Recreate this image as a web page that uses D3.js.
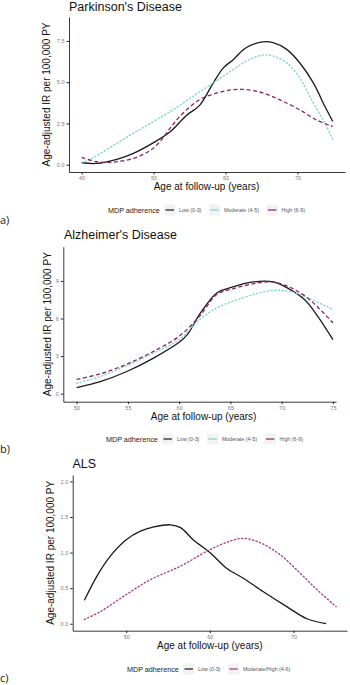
<!DOCTYPE html>
<html lang="en">
<head>
<meta charset="utf-8">
<title>MDP adherence and incidence</title>
<script src="https://cdn.jsdelivr.net/npm/d3@7"></script>
<style>
  body { margin: 0; background: #fff; }
  svg { display: block; font-family: "Liberation Sans", Arial, sans-serif; }
  .tick text { fill: #7a7a7a; font-size: 5.5px; }
  .domain, .tick line { stroke: #222; }
</style>
</head>
<body>
<script>
// Parkinson's disease: [age, IR]
var pdLow = [[40,0.12],[42.1,0.08],[44.9,0.33],[47.2,0.69],[50,1.34],[52.3,2.0],[54.6,3.0],[56.4,3.6],[58.3,4.96],[59.7,5.87],[61.1,6.38],[62.9,7.1],[65.2,7.44],[66.6,7.4],[68.5,6.99],[70.3,6.18],[72.2,4.96],[73.8,3.54],[74.9,2.62]];
var pdModerate = [[40,0.08],[41.2,0.33],[42.5,0.65],[44.9,1.3],[47.2,1.91],[50,2.62],[52.7,3.33],[55.5,4.15],[58.3,4.96],[61.1,5.77],[62.9,6.28],[65.2,6.65],[66.6,6.59],[68.5,6.18],[70.3,5.26],[72.2,3.74],[73.8,2.52],[74.9,1.54]];
var pdHigh = [[40,0.45],[42.1,0.18],[44.4,0.16],[47.2,0.39],[49.5,0.85],[50.9,1.4],[52.3,2.22],[54.1,3.13],[56.4,3.94],[58.8,4.35],[61.1,4.55],[62.9,4.55],[65.2,4.35],[67.5,3.94],[70.3,3.33],[72.6,2.72],[74.9,2.32]];

// Alzheimer's disease
var adLow = [[50,0.48],[52.3,0.96],[54.9,1.77],[57.5,2.84],[60,4.1],[60.8,4.71],[62.1,6.46],[63.7,8.06],[65,8.46],[67.2,8.92],[69.2,8.92],[70.5,8.46],[72.2,7.53],[73.5,6.19],[75,4.31]];
var adModerate = [[50,0.83],[52.3,1.37],[54.9,2.25],[57.5,3.24],[60,4.31],[62,5.92],[63.7,6.86],[65.3,7.39],[67.3,7.93],[69.2,8.25],[70.9,8.14],[72.5,7.66],[75,6.72]];
var adHigh = [[50,1.15],[52.3,1.58],[54.9,2.36],[57.5,3.38],[60,4.58],[62,6.19],[63.7,7.93],[65.3,8.38],[67.3,8.79],[68.9,8.92],[70.5,8.6],[72.5,7.66],[75,5.65]];

// ALS
var alsLow = [[45,0.33],[46.5,0.67],[48.1,0.95],[50,1.18],[51.7,1.3],[53.3,1.36],[55.3,1.39],[56.5,1.35],[58,1.18],[60,1.0],[62,0.78],[64,0.64],[66.4,0.45],[69.2,0.24],[71.6,0.07],[73.9,0.0]];
var alsModHigh = [[45,0.06],[46.9,0.17],[50,0.41],[52.9,0.62],[56.5,0.81],[60,1.04],[62.4,1.16],[64,1.2],[66,1.14],[68.4,0.97],[70.8,0.71],[72.8,0.48],[75.1,0.24]];

// tick labels
var pdXTicks = [40, 50, 60, 70];
var pdYTicks = [0, 2.5, 5, 7.5];
var adXTicks = [50, 55, 60, 65, 70, 75];
var adYTicks = [0, 3, 6, 9];
var alsXTicks = [50, 60, 70];
var alsYTicks = [0, 0.5, 1, 1.5, 2];

var pdLabels = ["Low (0-3)", "Moderate (4-5)", "High (6-9)"];
var alsLabels = ["Low (0-3)", "Moderate/High (4-6)"];

var black = "#1a1a1a", teal = "#7fd4cc", plum = "#8e2067", magenta = "#a8368a";
var solid = null, dotted = "1.3,2.4", dashed = "4,2.6";

var svg = d3.select("body").append("svg").attr("width", 350).attr("height", 685);

function drawPanel(p) {
  var x = d3.scaleLinear().domain(p.xDomain).range([p.left, p.right]);
  var y = d3.scaleLinear().domain(p.yDomain).range([p.bottom, p.top]);
  var g = svg.append("g");

  g.append("text").attr("x", p.titleX).attr("y", p.titleY)
    .attr("font-size", 12.5).attr("fill", "#111").text(p.title);

  var fmt = p.yFormat ? d3.format(p.yFormat) : d3.format("d");
  g.append("g").attr("transform", "translate(0," + p.bottom + ")")
    .call(d3.axisBottom(x).tickValues(p.xTicks).tickSize(2.5).tickPadding(2).tickSizeOuter(0))
    .call(function(s) { s.select(".domain").attr("stroke-width", 0.9); });
  g.append("g").attr("transform", "translate(" + p.left + ",0)")
    .call(d3.axisLeft(y).tickValues(p.yTicks).tickFormat(fmt).tickSize(2.5).tickPadding(2).tickSizeOuter(0))
    .call(function(s) { s.select(".domain").attr("stroke-width", 0.9); });

  var line = d3.line().x(function(d) { return x(d[0]); }).y(function(d) { return y(d[1]); })
    .curve(d3.curveCatmullRom.alpha(0.5));

  p.series.forEach(function(s) {
    g.append("path").datum(s.data).attr("d", line)
      .attr("fill", "none").attr("stroke", s.color).attr("stroke-width", 1.3)
      .attr("stroke-dasharray", s.dash).attr("stroke-linecap", s.dash === dotted ? "round" : "butt");
  });

  g.append("text").attr("transform", "translate(" + p.yTitleX + "," + ((p.top + p.bottom) / 2) + ") rotate(-90)")
    .attr("text-anchor", "middle").attr("font-size", 10).attr("fill", "#111")
    .text("Age-adjusted IR per 100,000 PY");
  g.append("text").attr("x", (p.left + p.right) / 2 + p.xTitleShift).attr("y", p.bottom + 18)
    .attr("text-anchor", "middle").attr("font-size", 10).attr("fill", "#111")
    .text("Age at follow-up (years)");

  // legend
  var lg = g.append("g").attr("transform", "translate(" + p.legendX + "," + p.legendY + ")");
  lg.append("text").attr("x", 0).attr("y", 2.5).attr("font-size", 7.2).attr("fill", "#222").text("MDP adherence");
  var cx = 56;
  p.series.forEach(function(s, i) {
    lg.append("rect").attr("x", cx).attr("y", -5.5).attr("width", 11.5).attr("height", 11).attr("fill", "#f2f2f2");
    lg.append("line").attr("x1", cx + 1.5).attr("x2", cx + 10).attr("y1", 0).attr("y2", 0)
      .attr("stroke", s.color).attr("stroke-width", 1.2);
    var t = lg.append("text").attr("x", cx + 15).attr("y", 2).attr("font-size", 5.3).attr("fill", "#555").text(p.labels[i]);
    cx += 15 + t.node().getComputedTextLength() + 7.5;
  });

  svg.append("text").attr("x", 0).attr("y", p.tagY).attr("font-family", "'Open Sans', sans-serif")
    .attr("font-size", 11).attr("fill", "#222").text(p.tag);
}

drawPanel({
  title: "Parkinson's Disease", titleX: 69, titleY: 10.5, tag: "a)", tagY: 224,
  left: 69, right: 345, top: 17, bottom: 172,
  xDomain: [38.25, 76.6], yDomain: [-0.44, 8.95],
  xTicks: pdXTicks, yTicks: pdYTicks, yFormat: ".1f",
  yTitleX: 50, xTitleShift: -0.5, legendX: 108, legendY: 210,
  labels: pdLabels,
  series: [{data: pdLow, color: black, dash: solid},
           {data: pdModerate, color: teal, dash: dotted},
           {data: pdHigh, color: plum, dash: dashed}]
});

drawPanel({
  title: "Alzheimer's Disease", titleX: 64, titleY: 239, tag: "b)", tagY: 453,
  left: 63.3, right: 336, top: 246.7, bottom: 401.7,
  xDomain: [48.7, 75.3], yDomain: [-0.64, 11.73],
  xTicks: adXTicks, yTicks: adYTicks,
  yTitleX: 51, xTitleShift: 4, legendX: 106, legendY: 439,
  labels: pdLabels,
  series: [{data: adLow, color: black, dash: solid},
           {data: adModerate, color: teal, dash: dotted},
           {data: adHigh, color: plum, dash: dashed}]
});

drawPanel({
  title: "ALS", titleX: 72.5, titleY: 468, tag: "c)", tagY: 682,
  left: 72.7, right: 347, top: 475, bottom: 630.7,
  xDomain: [43.6, 76.4], yDomain: [-0.098, 2.09],
  xTicks: alsXTicks, yTicks: alsYTicks, yFormat: ".1f",
  yTitleX: 54, xTitleShift: 0, legendX: 127, legendY: 669,
  labels: alsLabels,
  series: [{data: alsLow, color: black, dash: solid},
           {data: alsModHigh, color: magenta, dash: dotted}]
});
</script>
</body>
</html>
